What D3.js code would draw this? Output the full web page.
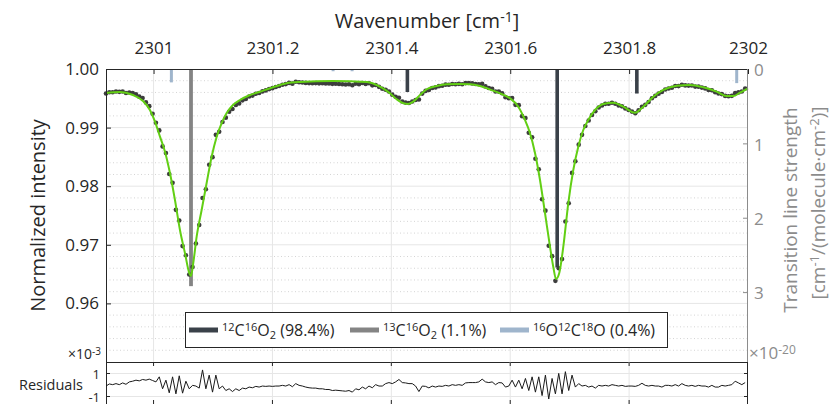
<!DOCTYPE html>
<html>
<head>
<meta charset="utf-8">
<script src="https://cdn.jsdelivr.net/npm/d3@7"></script>
<style>
  body { margin: 0; background: #fff; }
  svg { display: block; }
  text { font-family: "Open Sans", sans-serif; }
</style>
</head>
<body>
<script>
// spectrum sampling (wavenumber of first point and point spacing, cm-1)
var wnStart = 2300.920;
var wnStep = 0.0056;

// measured normalized intensity, one value per sample
var intensity = [
  0.99581, 0.99603, 0.99602, 0.99615, 0.99610, 0.99616, 0.99590, 0.99598, 0.99591, 0.99567,
  0.99528, 0.99506, 0.99430, 0.99366, 0.99236, 0.99082, 0.98952, 0.98679, 0.98565, 0.98208,
  0.98057, 0.97596, 0.97415, 0.96978, 0.96821, 0.96494, 0.96620, 0.97021, 0.97339, 0.97799,
  0.97948, 0.98365, 0.98496, 0.98876, 0.98929, 0.99096, 0.99170, 0.99270, 0.99318, 0.99387,
  0.99413, 0.99465, 0.99487, 0.99531, 0.99546, 0.99577, 0.99590, 0.99618, 0.99635, 0.99657,
  0.99673, 0.99693, 0.99710, 0.99732, 0.99742, 0.99763, 0.99750, 0.99783, 0.99773, 0.99770,
  0.99763, 0.99759, 0.99757, 0.99759, 0.99755, 0.99757, 0.99752, 0.99754, 0.99747, 0.99749,
  0.99744, 0.99739, 0.99735, 0.99739, 0.99723, 0.99751, 0.99740, 0.99762, 0.99746, 0.99757,
  0.99721, 0.99728, 0.99695, 0.99663, 0.99647, 0.99617, 0.99562, 0.99526, 0.99508, 0.99446,
  0.99427, 0.99420, 0.99446, 0.99472, 0.99480, 0.99580, 0.99626, 0.99641, 0.99676, 0.99686,
  0.99707, 0.99714, 0.99733, 0.99731, 0.99744, 0.99739, 0.99747, 0.99740, 0.99759, 0.99761,
  0.99754, 0.99744, 0.99740, 0.99747, 0.99703, 0.99677, 0.99662, 0.99617, 0.99614, 0.99585,
  0.99520, 0.99501, 0.99506, 0.99388, 0.99383, 0.99195, 0.99165, 0.98913, 0.98836, 0.98468,
  0.98288, 0.97778, 0.97583, 0.96984, 0.96806, 0.96385, 0.96601, 0.96756, 0.97397, 0.97710,
  0.98227, 0.98425, 0.98709, 0.98876, 0.99028, 0.99122, 0.99215, 0.99279, 0.99343, 0.99378,
  0.99405, 0.99406, 0.99425, 0.99408, 0.99379, 0.99363, 0.99328, 0.99302, 0.99273, 0.99246,
  0.99296, 0.99356, 0.99388, 0.99438, 0.99502, 0.99541, 0.99579, 0.99608, 0.99650, 0.99668,
  0.99680, 0.99711, 0.99708, 0.99732, 0.99720, 0.99717, 0.99718, 0.99700, 0.99699, 0.99683,
  0.99669, 0.99641, 0.99637, 0.99603, 0.99582, 0.99572, 0.99541, 0.99536, 0.99542, 0.99588,
  0.99601, 0.99616, 0.99666
];

// fit residuals (x 1e-3), same samples
var residuals = [
  -0.09, 0.09, 0.03, 0.12, 0.03, 0.18, 0.06, 0.27, 0.33, 0.42,
  0.36, 0.48, 0.42, 0.51, 0.39, 0.27, 0.71, -0.33, 0.42, -0.68,
  0.71, -0.77, 0.80, -0.71, 0.33, -0.33, -0.03, -0.09, -0.27, 1.31,
  -0.33, 0.86, -0.62, 0.86, -0.33, -0.09, -0.48, -0.33, -0.57, -0.33,
  -0.48, -0.27, -0.33, -0.18, -0.24, -0.12, -0.18, -0.09, -0.12, -0.09,
  -0.12, -0.09, -0.09, -0.03, -0.09, 0.03, -0.15, 0.12, -0.03, -0.09,
  -0.18, -0.24, -0.27, -0.27, -0.33, -0.33, -0.39, -0.39, -0.48, -0.45,
  -0.48, -0.51, -0.54, -0.48, -0.62, -0.33, -0.42, -0.18, -0.33, -0.09,
  -0.24, 0.03, -0.09, -0.09, 0.12, 0.21, 0.12, 0.27, 0.48, 0.21,
  0.18, 0.12, 0.12, -0.09, -0.57, -0.09, -0.12, -0.25, -0.09, -0.18,
  -0.09, -0.12, -0.03, -0.09, 0.03, -0.03, 0.03, -0.03, 0.18, 0.21,
  0.21, 0.21, 0.27, 0.51, 0.27, 0.21, 0.27, 0.03, 0.21, 0.18,
  -0.18, -0.09, 0.42, -0.18, 0.42, -0.33, 0.57, -0.48, 0.71, -0.62,
  0.71, -0.92, 0.86, -1.22, 0.57, -0.77, 1.01, -0.77, 1.16, -0.48,
  0.86, -0.18, 0.12, -0.09, -0.03, -0.18, -0.09, -0.27, -0.03, -0.09,
  -0.03, -0.09, 0.03, -0.03, -0.09, -0.03, -0.12, -0.09, -0.09, -0.12,
  -0.03, 0.15, -0.03, -0.09, -0.03, -0.09, -0.09, -0.18, -0.03, -0.03,
  -0.09, 0.03, -0.09, 0.12, -0.03, -0.09, -0.03, -0.12, -0.03, -0.09,
  -0.09, -0.18, -0.03, -0.18, -0.18, -0.03, -0.09, -0.03, 0.03, 0.33,
  0.18, 0.03, 0.21
];

// fitted profile, read at these wavenumbers
var fitWn = [
  2300.9200, 2300.9435, 2300.9653, 2300.9822, 2300.9939, 2301.0024, 2301.0108, 2301.0192,
  2301.0276, 2301.0360, 2301.0444, 2301.0528, 2301.0601, 2301.0629, 2301.0668, 2301.0725,
  2301.0809, 2301.0893, 2301.0977, 2301.1062, 2301.1146, 2301.1230, 2301.1336, 2301.1454,
  2301.1622, 2301.1790, 2301.2009, 2301.2239, 2301.2463, 2301.3018, 2301.3590, 2301.3809,
  2301.3977, 2301.4090, 2301.4201, 2301.4285, 2301.4369, 2301.4482, 2301.4595, 2301.4763,
  2301.4931, 2301.5155, 2301.5323, 2301.5491, 2301.5710, 2301.5828, 2301.5996, 2301.6136,
  2301.6248, 2301.6332, 2301.6417, 2301.6501, 2301.6585, 2301.6669, 2301.6724, 2301.6770,
  2301.6825, 2301.6893, 2301.6977, 2301.7061, 2301.7145, 2301.7229, 2301.7313, 2301.7426,
  2301.7566, 2301.7734, 2301.7902, 2301.8099, 2301.8239, 2301.8407, 2301.8575, 2301.8801,
  2301.9024, 2301.9248, 2301.9473, 2301.9642, 2301.9753, 2301.9865, 2302.0000
];
var fitVal = [
  0.99590, 0.99608, 0.99556, 0.99454, 0.99300, 0.99101, 0.98845, 0.98589,
  0.98225, 0.97765, 0.97253, 0.96860, 0.96519, 0.96468, 0.96689, 0.97138,
  0.97594, 0.98055, 0.98503, 0.98845, 0.99078, 0.99249, 0.99386, 0.99471,
  0.99556, 0.99613, 0.99688, 0.99756, 0.99778, 0.99795, 0.99778, 0.99698,
  0.99585, 0.99483, 0.99415, 0.99403, 0.99442, 0.99556, 0.99654, 0.99710,
  0.99739, 0.99744, 0.99739, 0.99710, 0.99630, 0.99585, 0.99500, 0.99357,
  0.99130, 0.98908, 0.98567, 0.98106, 0.97543, 0.96968, 0.96626, 0.96416,
  0.96519, 0.96968, 0.97713, 0.98276, 0.98674, 0.98959, 0.99130, 0.99300,
  0.99403, 0.99425, 0.99357, 0.99254, 0.99357, 0.99527, 0.99642, 0.99715,
  0.99727, 0.99688, 0.99613, 0.99539, 0.99539, 0.99596, 0.99671
];

// transition lines: position, strength (1e-20 cm-1/(molecule cm-2)), isotopologue index
var lineWn = [2301.030, 2301.063, 2301.302, 2301.334, 2301.427, 2301.679, 2301.813, 2301.981];
var lineStrength = [0.18, 2.92, 0.03, 0.03, 0.31, 2.67, 0.33, 0.19];
var lineIso = [2, 1, 2, 2, 0, 0, 0, 2];

// isotopologues (legend)
var isoNames = [
  [["12", "sup"], ["C", ""], ["16", "sup"], ["O", ""], ["2", "sub"]],
  [["13", "sup"], ["C", ""], ["16", "sup"], ["O", ""], ["2", "sub"]],
  [["16", "sup"], ["O", ""], ["12", "sup"], ["C", ""], ["18", "sup"], ["O", ""]]
];
var isoShare = [" (98.4%)", " (1.1%)", " (0.4%)"];
var isoColor = ["#3a4149", "#848484", "#9fb5cc"];
var isoWidth = [3.6, 3.8, 3];

// ticks
var xTicks = [2301, 2301.2, 2301.4, 2301.6, 2301.8, 2302];
var xTickLabels = ["2301", "2301.2", "2301.4", "2301.6", "2301.8", "2302"];
var yTicks = [0.96, 0.97, 0.98, 0.99, 1.00];
var yTickLabels = ["0.96", "0.97", "0.98", "0.99", "1.00"];
var sTicks = [0, 1, 2, 3];
var sTickLabels = ["0", "1", "2", "3"];
var resTicks = [-1, 1];
var resTickLabels = ["-1", "1"];

var svgWidth = 831, svgHeight = 404;
var plot = {left: 106, right: 748, top: 69, bottom: 362};
var dark = "#262626", grey = "#8c8c8c";

var svg = d3.select("body").append("svg")
  .attr("width", svgWidth)
  .attr("height", svgHeight);

var x = d3.scaleLinear().domain([2300.92, 2302]).range([plot.left, plot.right]);
var y = d3.scaleLinear().domain([0.95, 1.0]).range([plot.bottom, plot.top]);
var yS = d3.scaleLinear().domain([0, 3.94]).range([plot.top, plot.bottom]);
var yR = d3.scaleLinear().domain([-2, 2]).range([408, 362]);

var samples = intensity.map(function(v, i) {
  return {wn: wnStart + i * wnStep, v: v, r: residuals[i]};
});

// grid, main panel
var grid = svg.append("g");
var minorY = d3.range(0.952, 1.0, 0.002).filter(function(v) {
  return Math.abs(v * 100 - Math.round(v * 100)) > 1e-6;
});
grid.selectAll(".minor").data(minorY).enter().append("line")
  .attr("x1", plot.left).attr("x2", plot.right)
  .attr("y1", d => y(d)).attr("y2", d => y(d))
  .attr("stroke", "#d4d4d4").attr("stroke-width", 1)
  .attr("stroke-dasharray", "1,2.5");
grid.selectAll(".major").data(yTicks.slice(0, 4)).enter().append("line")
  .attr("x1", plot.left).attr("x2", plot.right)
  .attr("y1", d => y(d)).attr("y2", d => y(d))
  .attr("stroke", "#e6e6e6").attr("stroke-width", 1);
grid.selectAll(".vert").data(xTicks.slice(0, 5)).enter().append("line")
  .attr("x1", d => x(d)).attr("x2", d => x(d))
  .attr("y1", plot.top).attr("y2", plot.bottom)
  .attr("stroke", "#e6e6e6").attr("stroke-width", 1);

// transition line sticks
svg.selectAll(".stick").data(lineWn).enter().append("line")
  .attr("x1", d => x(d)).attr("x2", d => x(d))
  .attr("y1", yS(0))
  .attr("y2", (d, i) => yS(lineStrength[i]))
  .attr("stroke", (d, i) => isoColor[lineIso[i]])
  .attr("stroke-width", (d, i) => isoWidth[lineIso[i]]);

// measured points
svg.selectAll(".pt").data(samples).enter().append("circle")
  .attr("cx", d => x(d.wn))
  .attr("cy", d => y(d.v))
  .attr("r", 2.3)
  .attr("fill", "#3d3d3d");

// fit
var fitLine = d3.line()
  .x(d => x(d[0]))
  .y(d => y(d[1]))
  .curve(d3.curveMonotoneX);
svg.append("path")
  .datum(fitWn.map((w, i) => [w, fitVal[i]]))
  .attr("d", fitLine)
  .attr("fill", "none")
  .attr("stroke", "#62cf14")
  .attr("stroke-width", 2);

// axes, main panel
var topAxis = d3.axisTop(x).tickValues(xTicks)
  .tickFormat((d, i) => xTickLabels[i])
  .tickSizeInner(-5).tickSizeOuter(0).tickPadding(15);
var gTop = svg.append("g").attr("transform", `translate(0, ${plot.top})`).call(topAxis);

var leftAxis = d3.axisLeft(y).tickValues(yTicks)
  .tickFormat((d, i) => yTickLabels[i])
  .tickSizeInner(-5).tickSizeOuter(0).tickPadding(7);
var gLeft = svg.append("g").attr("transform", `translate(${plot.left}, 0)`).call(leftAxis);

var rightAxis = d3.axisRight(yS).tickValues(sTicks)
  .tickFormat((d, i) => sTickLabels[i])
  .tickSizeInner(-5).tickSizeOuter(0).tickPadding(6);
var gRight = svg.append("g").attr("transform", `translate(${plot.right}, 0)`).call(rightAxis);

[gTop, gLeft, gRight].forEach(function(g) {
  g.select(".domain").remove();
  g.selectAll("text").style("font-family", "'Open Sans', sans-serif").style("font-size", "17px");
});
gTop.selectAll("line").attr("stroke", dark);
gTop.selectAll("text").attr("fill", dark);
gLeft.selectAll("line").attr("stroke", dark);
gLeft.selectAll("text").attr("fill", dark);
gRight.selectAll("line").attr("stroke", grey);
gRight.selectAll("text").attr("fill", grey).attr("dy", "0.4em");

// frame
svg.append("line").attr("x1", plot.left).attr("x2", plot.right)
  .attr("y1", plot.top + 0.5).attr("y2", plot.top + 0.5).attr("stroke", dark);
svg.append("line").attr("x1", plot.left + 0.5).attr("x2", plot.left + 0.5)
  .attr("y1", plot.top).attr("y2", 404).attr("stroke", dark);
svg.append("line").attr("x1", plot.right - 0.5).attr("x2", plot.right - 0.5)
  .attr("y1", plot.top).attr("y2", plot.bottom).attr("stroke", grey);
svg.append("line").attr("x1", plot.left).attr("x2", plot.right)
  .attr("y1", plot.bottom + 0.5).attr("y2", plot.bottom + 0.5).attr("stroke", dark);

// rich text helper (superscripts / subscripts)
function rich(sel, parts, size) {
  var small = Math.round(size * 0.68);
  parts.forEach(function(p) {
    var t = sel.append("tspan").text(p[0]);
    if (p[1] === "sup") t.attr("font-size", small).attr("baseline-shift", "45%");
    else if (p[1] === "sub") t.attr("font-size", small).attr("baseline-shift", "-30%");
  });
}

// titles
var tTitle = svg.append("text").attr("x", 427).attr("y", 28)
  .attr("text-anchor", "middle").attr("font-size", 20).attr("fill", dark);
rich(tTitle, [["Wavenumber [cm", ""], ["-1", "sup"], ["]", ""]], 20);

svg.append("text")
  .attr("transform", `translate(45, ${(plot.top + plot.bottom) / 2}) rotate(-90)`)
  .attr("text-anchor", "middle").attr("font-size", 20).attr("fill", dark)
  .text("Normalized intensity");

svg.append("text")
  .attr("transform", "translate(797, 210) rotate(-90)")
  .attr("text-anchor", "middle").attr("font-size", 19).attr("fill", grey)
  .text("Transition line strength");
var tUnit = svg.append("text")
  .attr("transform", "translate(825, 203) rotate(-90)")
  .attr("text-anchor", "middle").attr("font-size", 19).attr("fill", grey);
rich(tUnit, [["[cm", ""], ["-1", "sup"], ["/(molecule\u00b7cm", ""], ["-2", "sup"], [")]", ""]], 19);

// exponent notes
var e3 = svg.append("text").attr("x", 68).attr("y", 359)
  .attr("font-family", "'Liberation Sans', Arial, sans-serif").attr("font-size", 14).attr("fill", dark);
rich(e3, [["\u00d710", ""], ["-3", "sup"]], 14);
var e20 = svg.append("text").attr("x", 749).attr("y", 359)
  .attr("font-family", "'Liberation Sans', Arial, sans-serif").attr("font-size", 17).attr("fill", grey);
rich(e20, [["\u00d710", ""], ["-20", "sup"]], 17);

// legend
var legend = svg.append("g");
legend.append("rect").attr("x", 185.5).attr("y", 312.5).attr("width", 482).attr("height", 35)
  .attr("fill", "#fff").attr("stroke", dark);
var legX = [189, 350, 500];
isoNames.forEach(function(name, i) {
  legend.append("line")
    .attr("x1", legX[i]).attr("x2", legX[i] + 29)
    .attr("y1", 330).attr("y2", 330)
    .attr("stroke", isoColor[i]).attr("stroke-width", 5);
  var t = legend.append("text").attr("x", legX[i] + 33).attr("y", 336)
    .attr("font-size", 16).attr("fill", dark);
  rich(t, name.concat([[isoShare[i], ""]]), 16);
});

// residual panel
var rg = svg.append("g");
rg.selectAll(".rv").data(xTicks.slice(1, 5)).enter().append("line")
  .attr("x1", d => x(d)).attr("x2", d => x(d)).attr("y1", 362).attr("y2", 404)
  .attr("stroke", "#e6e6e6");
rg.selectAll(".rh").data(resTicks).enter().append("line")
  .attr("x1", plot.left).attr("x2", plot.right)
  .attr("y1", d => yR(d)).attr("y2", d => yR(d))
  .attr("stroke", "#e6e6e6");
rg.selectAll(".rt").data(xTicks.slice(0, 5)).enter().append("line")
  .attr("x1", d => x(d)).attr("x2", d => x(d)).attr("y1", 362).attr("y2", 366)
  .attr("stroke", dark);
rg.selectAll(".rb").data(xTicks.slice(0, 5)).enter().append("line")
  .attr("x1", d => x(d)).attr("x2", d => x(d)).attr("y1", 400).attr("y2", 404)
  .attr("stroke", dark);
rg.selectAll(".rl").data(resTicks).enter().append("line")
  .attr("x1", plot.left).attr("x2", plot.left + 4)
  .attr("y1", d => yR(d)).attr("y2", d => yR(d)).attr("stroke", dark);
rg.selectAll(".rr").data(resTicks).enter().append("line")
  .attr("x1", plot.right - 4).attr("x2", plot.right)
  .attr("y1", d => yR(d)).attr("y2", d => yR(d)).attr("stroke", dark);
svg.append("line").attr("x1", plot.right - 0.5).attr("x2", plot.right - 0.5)
  .attr("y1", 362).attr("y2", 404).attr("stroke", dark);

var resLine = d3.line().x(d => x(d.wn)).y(d => yR(d.r));
rg.append("path").datum(samples).attr("d", resLine)
  .attr("fill", "none").attr("stroke", "#1a1a1a").attr("stroke-width", 1);

rg.selectAll(".rlab").data(resTicks).enter().append("text")
  .attr("x", 100).attr("y", d => yR(d) + 5)
  .attr("text-anchor", "end")
  .attr("font-family", "'Liberation Sans', Arial, sans-serif").attr("font-size", 13)
  .attr("fill", dark)
  .text((d, i) => resTickLabels[i]);
svg.append("text").attr("x", 83).attr("y", 390).attr("text-anchor", "end")
  .attr("font-family", "'Liberation Sans', Arial, sans-serif").attr("font-size", 14.5)
  .attr("fill", dark).text("Residuals");
</script>
</body>
</html>
